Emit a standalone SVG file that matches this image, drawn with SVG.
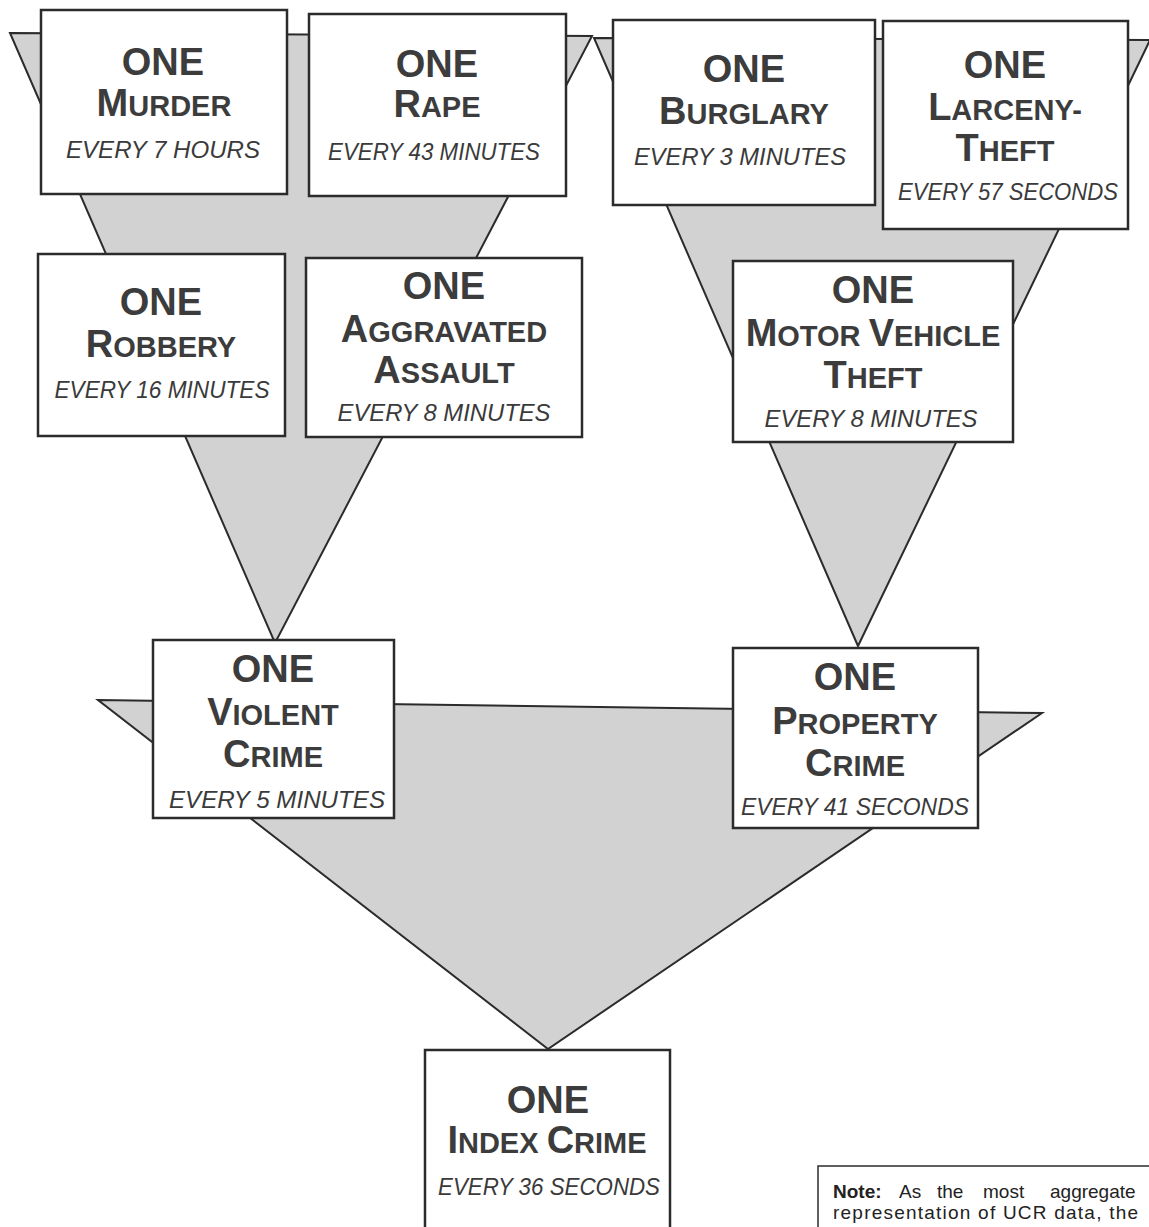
<svg xmlns="http://www.w3.org/2000/svg" width="1149" height="1227" viewBox="0 0 1149 1227">
<style>
.funnel{fill:#d2d2d2;stroke:#2b2b2b;stroke-width:2;stroke-linejoin:miter}
.box{fill:#fff;stroke:#2b2b2b;stroke-width:2.5}
.one,.name{font-family:"Liberation Sans",Arial,sans-serif;font-weight:bold;font-size:38px;fill:#3c3c3c;text-anchor:middle}
.s{font-size:29px}
.every{font-family:"Liberation Sans",Arial,sans-serif;font-style:italic;font-size:24px;fill:#3a3a3a;text-anchor:middle}
.note{font-family:"Liberation Sans",Arial,sans-serif;font-size:19px;fill:#222}
.nb{font-weight:bold}
.notebox{fill:#fff;stroke:#2b2b2b;stroke-width:1.5}
</style>
<rect width="1149" height="1227" fill="#fff"/>
<g id="connectors">
<polygon class="funnel" points="10,33 592,36 275,643"/>
<polygon class="funnel" points="594,38 1150,40 858,646"/>
<polygon class="funnel" points="98,700 1042,713 548,1049"/>
</g>
<g id="murder">
<rect class="box" x="41" y="10" width="246" height="184"/>
<text class="one" x="163" y="75">ONE</text>
<text class="name" x="164" y="116">M<tspan class="s">URDER</tspan></text>
<text class="every" x="163" y="158" textLength="194" lengthAdjust="spacingAndGlyphs">EVERY 7 HOURS</text>
</g>
<g id="rape">
<rect class="box" x="309" y="14" width="257" height="182"/>
<text class="one" x="437" y="77">ONE</text>
<text class="name" x="437" y="117">R<tspan class="s">APE</tspan></text>
<text class="every" x="434" y="160" textLength="212" lengthAdjust="spacingAndGlyphs">EVERY 43 MINUTES</text>
</g>
<g id="burglary">
<rect class="box" x="613" y="20" width="262" height="185"/>
<text class="one" x="744" y="82">ONE</text>
<text class="name" x="744" y="124">B<tspan class="s">URGLARY</tspan></text>
<text class="every" x="740" y="165" textLength="212" lengthAdjust="spacingAndGlyphs">EVERY 3 MINUTES</text>
</g>
<g id="larceny-theft">
<rect class="box" x="883" y="21" width="245" height="208"/>
<text class="one" x="1005" y="78">ONE</text>
<text class="name" x="1005" y="120">L<tspan class="s">ARCENY-</tspan></text>
<text class="name" x="1005" y="161">T<tspan class="s">HEFT</tspan></text>
<text class="every" x="1008" y="200" textLength="220" lengthAdjust="spacingAndGlyphs">EVERY 57 SECONDS</text>
</g>
<g id="robbery">
<rect class="box" x="38" y="254" width="247" height="182"/>
<text class="one" x="161" y="315">ONE</text>
<text class="name" x="161" y="357">R<tspan class="s">OBBERY</tspan></text>
<text class="every" x="162" y="398" textLength="215" lengthAdjust="spacingAndGlyphs">EVERY 16 MINUTES</text>
</g>
<g id="aggravated-assault">
<rect class="box" x="306" y="258" width="276" height="179"/>
<text class="one" x="444" y="299">ONE</text>
<text class="name" x="444" y="342">A<tspan class="s">GGRAVATED</tspan></text>
<text class="name" x="444" y="383">A<tspan class="s">SSAULT</tspan></text>
<text class="every" x="444" y="421" textLength="213" lengthAdjust="spacingAndGlyphs">EVERY 8 MINUTES</text>
</g>
<g id="motor-vehicle-theft">
<rect class="box" x="733" y="261" width="280" height="181"/>
<text class="one" x="873" y="303">ONE</text>
<text class="name" x="873" y="346">M<tspan class="s">OTOR </tspan>V<tspan class="s">EHICLE</tspan></text>
<text class="name" x="873" y="388">T<tspan class="s">HEFT</tspan></text>
<text class="every" x="871" y="427" textLength="213" lengthAdjust="spacingAndGlyphs">EVERY 8 MINUTES</text>
</g>
<g id="violent-crime">
<rect class="box" x="153" y="640" width="241" height="178"/>
<text class="one" x="273" y="682">ONE</text>
<text class="name" x="273" y="725">V<tspan class="s">IOLENT</tspan></text>
<text class="name" x="273" y="767">C<tspan class="s">RIME</tspan></text>
<text class="every" x="277" y="808" textLength="216" lengthAdjust="spacingAndGlyphs">EVERY 5 MINUTES</text>
</g>
<g id="property-crime">
<rect class="box" x="733" y="648" width="245" height="180"/>
<text class="one" x="855" y="690">ONE</text>
<text class="name" x="855" y="734">P<tspan class="s">ROPERTY</tspan></text>
<text class="name" x="855" y="776">C<tspan class="s">RIME</tspan></text>
<text class="every" x="855" y="815" textLength="228" lengthAdjust="spacingAndGlyphs">EVERY 41 SECONDS</text>
</g>
<g id="index-crime">
<rect class="box" x="425" y="1050" width="245" height="200"/>
<text class="one" x="548" y="1113">ONE</text>
<text class="name" x="547" y="1153">I<tspan class="s">NDEX </tspan>C<tspan class="s">RIME</tspan></text>
<text class="every" x="549" y="1195" textLength="222" lengthAdjust="spacingAndGlyphs">EVERY 36 SECONDS</text>
</g>
<g id="note">
<rect class="notebox" x="818" y="1166" width="340" height="80"/>
<text class="note" y="1198"><tspan class="nb" x="833">Note:</tspan><tspan x="899">As</tspan><tspan x="937">the</tspan><tspan x="983">most</tspan><tspan x="1050">aggregate</tspan></text>
<text class="note" x="833" y="1219" textLength="305" lengthAdjust="spacing">representation of UCR data, the</text>
</g>
</svg>
